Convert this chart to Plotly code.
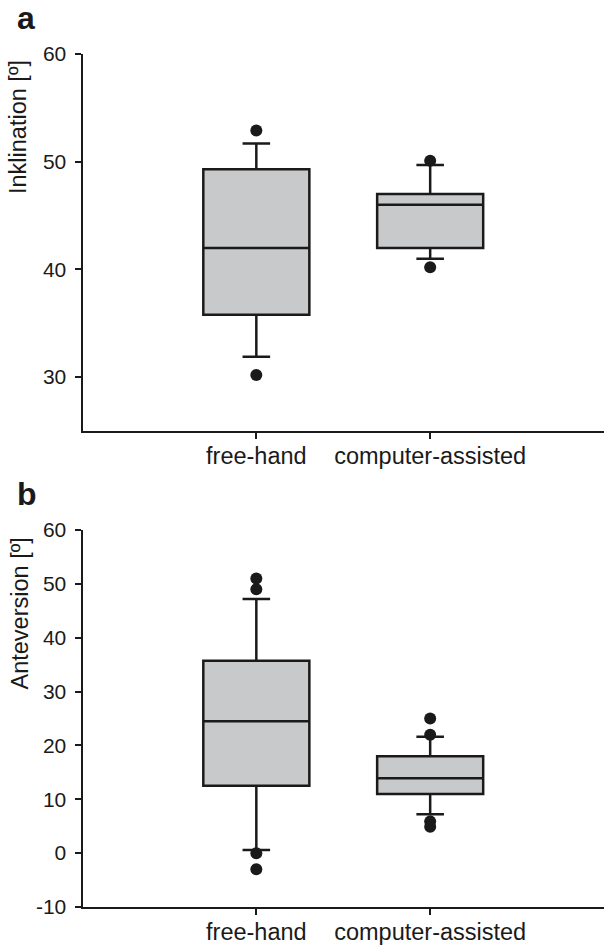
import plotly.graph_objects as go

categories = ["free-hand", "computer-assisted"]

# Panel a: Inklination
incl_q1 = [35.8, 42.0]
incl_median = [42.0, 46.0]
incl_q3 = [49.3, 47.0]
incl_lower = [31.9, 41.0]
incl_upper = [51.7, 49.7]
incl_out_cat = ["free-hand", "free-hand", "computer-assisted", "computer-assisted"]
incl_out_val = [52.9, 30.2, 50.1, 40.2]
incl_ticks = [30, 40, 50, 60]
incl_ticktext = ["30", "40", "50", "60"]

# Panel b: Anteversion
ante_q1 = [12.5, 11.0]
ante_median = [24.5, 13.9]
ante_q3 = [35.7, 18.0]
ante_lower = [0.6, 7.2]
ante_upper = [47.2, 21.6]
ante_out_cat = ["free-hand"] * 4 + ["computer-assisted"] * 4
ante_out_val = [51.0, 49.0, 0.0, -3.0, 25.0, 22.0, 5.9, 4.9]
ante_ticks = [-10, 0, 10, 20, 30, 40, 50, 60]
ante_ticktext = ["-10", "0", "10", "20", "30", "40", "50", "60"]

W, H = 604, 945
INK = "#1a1a1a"
FILL = "#c8c9cb"
FONT = "Liberation Sans, Arial, Helvetica, sans-serif"

fig = go.Figure()


def add_panel(xa, ya, q1, med, q3, lo, hi, oc, ov):
    fig.add_trace(go.Box(
        x=categories, q1=q1, median=med, q3=q3, lowerfence=lo, upperfence=hi,
        xaxis=xa, yaxis=ya, width=0.61, whiskerwidth=0.26,
        fillcolor=FILL, line=dict(color=INK, width=2.5),
        boxpoints=False, showlegend=False, hoverinfo="skip",
    ))
    fig.add_trace(go.Scatter(
        x=oc, y=ov, mode="markers", xaxis=xa, yaxis=ya,
        marker=dict(color=INK, size=12, line=dict(width=0)),
        showlegend=False, hoverinfo="skip",
    ))


add_panel("x", "y", incl_q1, incl_median, incl_q3, incl_lower, incl_upper,
          incl_out_cat, incl_out_val)
add_panel("x2", "y2", ante_q1, ante_median, ante_q3, ante_lower, ante_upper,
          ante_out_cat, ante_out_val)

x_dom = [82.5 / W, 1.0]
top_dom = [1 - 431 / H, 1 - 54 / H]
bot_dom = [1 - 907 / H, 1 - 530 / H]

xcommon = dict(
    type="category", categoryorder="array", categoryarray=categories,
    range=[-1, 2], domain=x_dom, showline=True, linecolor=INK, linewidth=2,
    ticks="outside", ticklen=6, tickwidth=1.5, tickcolor=INK,
    showgrid=False, zeroline=False, fixedrange=True, automargin=False,
    tickfont=dict(family=FONT, size=23.5, color=INK), ticklabelstandoff=-3,
)
ycommon = dict(
    showline=True, linecolor=INK, linewidth=2,
    ticks="outside", ticklen=6, tickwidth=1.5, tickcolor=INK,
    showgrid=False, zeroline=False, fixedrange=True, automargin=False,
    tickfont=dict(family=FONT, size=21, color=INK), ticklabelstandoff=4,
)

fig.update_layout(
    template="none",
    width=W, height=H, margin=dict(l=0, r=0, t=0, b=0, pad=0),
    paper_bgcolor="white", plot_bgcolor="white",
    font=dict(family=FONT, color=INK),
    xaxis=dict(**xcommon, anchor="y"),
    yaxis=dict(**ycommon, domain=top_dom, range=[25, 60], tickvals=incl_ticks,
               ticktext=incl_ticktext, anchor="x"),
    xaxis2=dict(**xcommon, anchor="y2"),
    yaxis2=dict(**ycommon, domain=bot_dom, range=[-10, 60], tickvals=ante_ticks,
                ticktext=ante_ticktext, anchor="x2"),
    annotations=[
        dict(text="a", x=15 / W, y=1 + 2 / H, xref="paper", yref="paper",
             xanchor="left", yanchor="top", showarrow=False,
             font=dict(family=FONT, size=32, color=INK, weight="bold")),
        dict(text="b", x=15 / W, y=1 - 474 / H, xref="paper", yref="paper",
             xanchor="left", yanchor="top", showarrow=False,
             font=dict(family=FONT, size=32, color=INK, weight="bold")),
        dict(text="Inklination [º]", x=18.5 / W, y=1 - 127.5 / H,
             xref="paper", yref="paper", xanchor="center", yanchor="middle",
             textangle=-90, showarrow=False,
             font=dict(family=FONT, size=23.5, color=INK)),
        dict(text="Anteversion [º]", x=19 / W, y=1 - 613.5 / H,
             xref="paper", yref="paper", xanchor="center", yanchor="middle",
             textangle=-90, showarrow=False,
             font=dict(family=FONT, size=23.5, color=INK)),
    ],
)

fig.write_html(
    "out.html",
    config={"displayModeBar": False},
    post_script="document.body.style.margin='0';document.body.style.overflow='hidden';",
)
